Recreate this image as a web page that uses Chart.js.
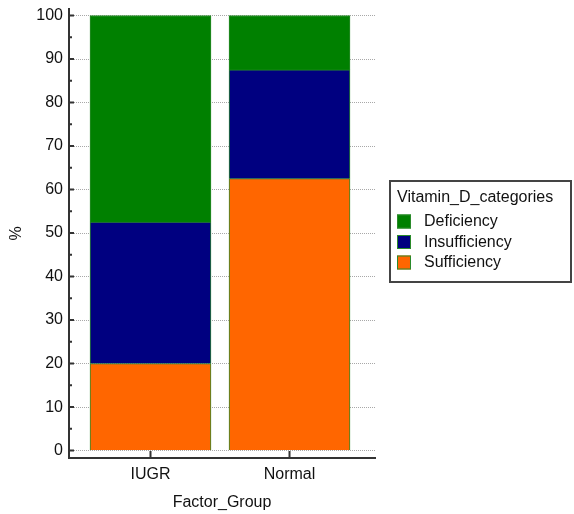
<!DOCTYPE html>
<html>
<head>
<meta charset="utf-8">
<script src="https://cdn.jsdelivr.net/npm/chart.js@4.4.1/dist/chart.umd.min.js"></script>
<style>
body{margin:0;background:#fff;}
</style>
</head>
<body>
<canvas id="canvas_vitd" width="574" height="514"></canvas>
<script>
var groups = ['IUGR', 'Normal'];
var sufficiencyPct = [20, 62.5];
var insufficiencyPct = [32.5, 25];
var deficiencyPct = [47.5, 12.5];
var yTicks = [0, 10, 20, 30, 40, 50, 60, 70, 80, 90, 100];
var legendTitle = 'Vitamin_D_categories';

var fontFam = '"Liberation Sans", Arial, sans-serif';

function toPoints(vals) {
	var pts = [];
	for (var i in vals) {
		pts.push({x: +i + 1, y: vals[i]});
	}
	return pts;
}

// inward tick marks on both axes
var axisMarks = {
	id: 'axisMarks',
	afterDatasetsDraw: function(chart) {
		var ctx = chart.ctx;
		var sy = chart.scales.y, sx = chart.scales.x, area = chart.chartArea;
		ctx.save();
		ctx.strokeStyle = '#333';
		ctx.lineWidth = 2;
		ctx.beginPath();
		for (var v = 0; v <= 100; v += 5) {
			var py = sy.getPixelForValue(v);
			var len = (v % 10 == 0) ? 5 : 3;
			ctx.moveTo(area.left, py);
			ctx.lineTo(area.left + len, py);
		}
		for (var i in groups) {
			var px = sx.getPixelForValue(+i + 1);
			ctx.moveTo(px, area.bottom);
			ctx.lineTo(px, area.bottom - 7);
		}
		ctx.stroke();
		ctx.restore();
	}
};

// boxed legend on the right
var boxLegend = {
	id: 'boxLegend',
	afterDraw: function(chart) {
		var ctx = chart.ctx;
		var sets = chart.data.datasets;
		ctx.save();
		ctx.strokeStyle = '#444';
		ctx.lineWidth = 2;
		ctx.strokeRect(390, 181, 181, 101);
		ctx.fillStyle = '#111';
		ctx.font = '16px ' + fontFam;
		ctx.textBaseline = 'middle';
		ctx.fillText(legendTitle, 397, 198);
		var row = 0;
		for (var k = sets.length - 1; k >= 0; k--) {
			var cy = 221.5 + row * 20.5;
			ctx.fillStyle = sets[k].backgroundColor;
			ctx.fillRect(397, cy - 7, 14, 14);
			ctx.strokeStyle = sets[k].borderColor;
			ctx.lineWidth = 1;
			ctx.strokeRect(397.5, cy - 6.5, 13, 13);
			ctx.fillStyle = '#111';
			ctx.fillText(sets[k].label, 424, cy + 0.5);
			row++;
		}
		ctx.restore();
	}
};

var configVitD = {
	type: 'bar',
	data: {
		datasets: [{
			label: 'Sufficiency',
			data: toPoints(sufficiencyPct),
			backgroundColor: '#FF6600',
			borderColor: '#2a8a2a',
			borderWidth: 1,
			barThickness: 121
		}, {
			label: 'Insufficiency',
			data: toPoints(insufficiencyPct),
			backgroundColor: '#000080',
			borderColor: '#2a8a2a',
			borderWidth: 1,
			barThickness: 121
		}, {
			label: 'Deficiency',
			data: toPoints(deficiencyPct),
			backgroundColor: '#008000',
			borderColor: '#2a8a2a',
			borderWidth: 1,
			barThickness: 121
		}]
	},
	options: {
		responsive: false,
		animation: false,
		layout: {padding: {left: 0, top: 9, right: 199, bottom: 0}},
		plugins: {
			legend: {display: false},
			tooltip: {enabled: false}
		},
		scales: {
			x: {
				type: 'linear',
				stacked: true,
				offset: false,
				min: 0.4137,
				max: 2.615,
				afterBuildTicks: function(scale) {
					scale.ticks = groups.map(function(g, i) { return {value: i + 1}; });
				},
				afterFit: function(scale) {
					scale.height = 56;
					scale.paddingLeft = 0;
					scale.paddingRight = 0;
				},
				grid: {display: false, drawTicks: false, offset: false},
				border: {color: '#333', width: 2},
				ticks: {
					padding: 7,
					color: '#111',
					font: {size: 16, family: fontFam},
					maxRotation: 0,
					callback: function(v) { return groups[v - 1]; }
				},
				title: {
					display: true,
					text: 'Factor_Group',
					color: '#111',
					font: {size: 16, family: fontFam},
					padding: {top: 0, bottom: 2}
				}
			},
			y: {
				stacked: true,
				min: -1.7,
				max: 101.5,
				afterBuildTicks: function(scale) {
					scale.ticks = yTicks.map(function(v) { return {value: v}; });
				},
				afterFit: function(scale) {
					scale.width = 69;
					scale.paddingTop = 0;
					scale.paddingBottom = 0;
				},
				grid: {color: '#a8a8a8', lineWidth: 1, drawTicks: false},
				border: {color: '#333', width: 2, dash: [1, 1]},
				ticks: {
					padding: 6,
					color: '#111',
					font: {size: 16, family: fontFam}
				},
				title: {
					display: true,
					text: '%',
					color: '#111',
					font: {size: 16, family: fontFam},
					padding: {top: 7, bottom: 0}
				}
			}
		}
	},
	plugins: [axisMarks, boxLegend]
};

var ctx_vitd = document.getElementById('canvas_vitd').getContext('2d');
new Chart(ctx_vitd, configVitD);
</script>
</body>
</html>
